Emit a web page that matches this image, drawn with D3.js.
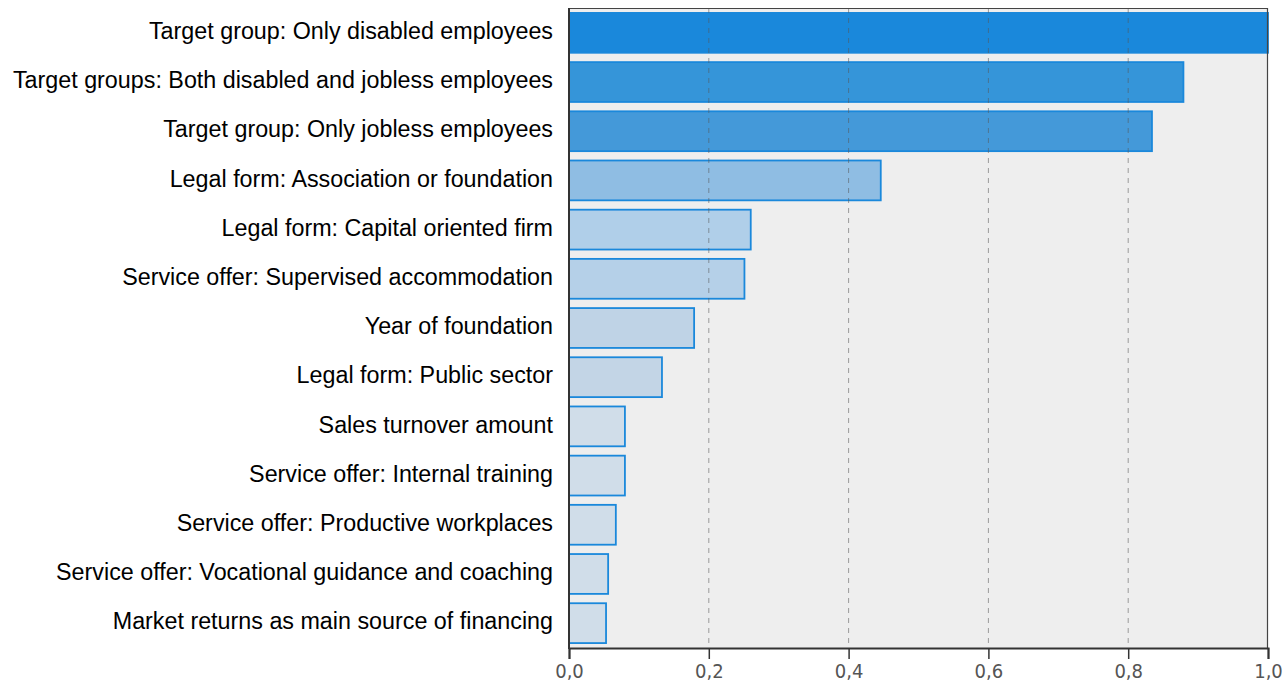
<!DOCTYPE html>
<html><head><meta charset="utf-8">
<script src="https://cdn.jsdelivr.net/npm/d3@7"></script>
<style>body{margin:0;background:#fff}</style>
</head><body><svg id="c" width="1284" height="685"></svg>
<script>
const categories = [
  "Target group: Only disabled employees",
  "Target groups: Both disabled and jobless employees",
  "Target group: Only jobless employees",
  "Legal form: Association or foundation",
  "Legal form: Capital oriented firm",
  "Service offer: Supervised accommodation",
  "Year of foundation",
  "Legal form: Public sector",
  "Sales turnover amount",
  "Service offer: Internal training",
  "Service offer: Productive workplaces",
  "Service offer: Vocational guidance and coaching",
  "Market returns as main source of financing"
];
const importance = [1.0, 0.879, 0.834, 0.446, 0.260, 0.251, 0.179, 0.133, 0.080, 0.080, 0.067, 0.056, 0.053];
const fills = ["#1a88db","#3595d9","#4499d9","#8fbde3","#b0cfe9","#b5d0e8","#bfd3e6","#c3d5e6","#d0dde9","#d0dde9","#d0dde9","#d0dde9","#d0dde9"];
const tickValues = [0, 0.2, 0.4, 0.6, 0.8, 1.0];

const svg = d3.select("#c");
const m = {l:569, r:1268, t:8, b:648};
const x = d3.scaleLinear().domain([0,1]).range([m.l, m.r]);
const y = d3.scaleBand().domain(categories).range([m.t, m.b]).paddingInner(0.19).paddingOuter(0.1);

svg.append("rect").attr("x", m.l).attr("y", m.t).attr("width", m.r-m.l).attr("height", m.b-m.t).attr("fill","#eeeeee");

svg.selectAll("rect.bar").data(categories).join("rect").attr("class","bar")
  .attr("x", x(0)).attr("y", d=>y(d)).attr("height", y.bandwidth())
  .attr("width", (d,i)=>x(importance[i])-x(0))
  .attr("fill", (d,i)=>fills[i]).attr("stroke","#1a88db").attr("stroke-width",1.8);

svg.selectAll("line.grid").data(tickValues.slice(1,5)).join("line").attr("class","grid")
  .attr("x1", d=>x(d)).attr("x2", d=>x(d)).attr("y1", m.t).attr("y2", m.b)
  .attr("stroke","#555").attr("stroke-opacity",0.55).attr("stroke-dasharray","5,5");

// border
svg.append("line").attr("x1",m.l).attr("x2",m.r).attr("y1",m.t+0.5).attr("y2",m.t+0.5).attr("stroke","#444").attr("stroke-width",1.2);
svg.append("line").attr("x1",m.r-0.5).attr("x2",m.r-0.5).attr("y1",m.t).attr("y2",m.b).attr("stroke","#444").attr("stroke-width",1.2);

const xAxis = svg.append("g").attr("transform",`translate(0,${m.b})`)
  .call(d3.axisBottom(x).tickValues(tickValues).tickSize(11).tickPadding(5).tickFormat(d=>d3.format(".1f")(d).replace(".",",")));
xAxis.select(".domain").attr("stroke","#333").attr("stroke-width",2);
xAxis.selectAll(".tick line").attr("stroke","#333").attr("stroke-width",1.5);
xAxis.selectAll(".tick text").attr("font-family","'DejaVu Sans Condensed','DejaVu Sans',sans-serif").attr("font-size",20).attr("fill","#555").attr("dy","0.68em");

svg.append("line").attr("x1",m.l).attr("x2",m.l).attr("y1",m.t).attr("y2",m.b+1).attr("stroke","#333").attr("stroke-width",2);

svg.selectAll("text.lab").data(categories).join("text").attr("class","lab")
  .attr("x", 553).attr("y", d=>y(d)+y.bandwidth()/2 - 2).attr("dy","0.35em")
  .attr("text-anchor","end").attr("font-family","'Liberation Sans',Arial,sans-serif").attr("font-size",23.3).attr("fill","#000")
  .text(d=>d);
</script></body></html>
